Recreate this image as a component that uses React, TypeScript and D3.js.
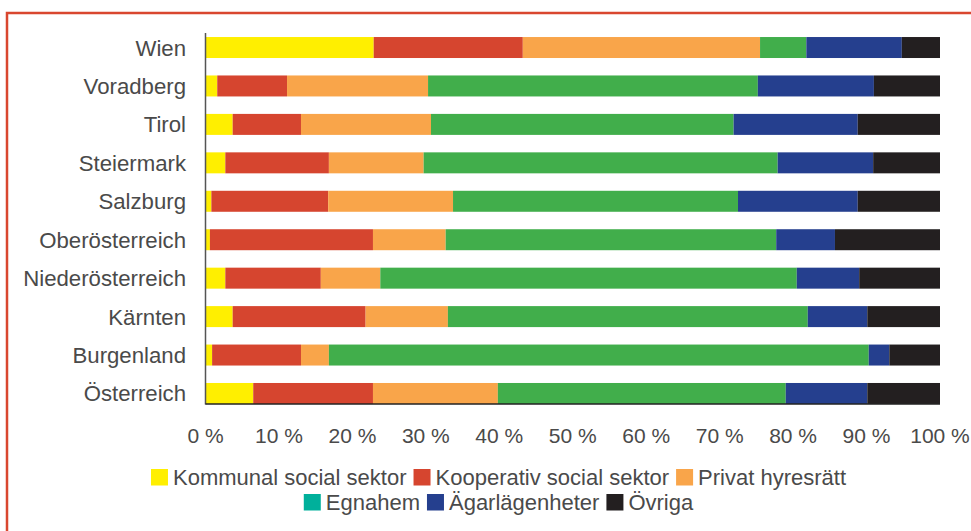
import React, { useEffect, useRef } from "react";
import * as d3 from "d3";

const categories = [
  "Wien",
  "Voradberg",
  "Tirol",
  "Steiermark",
  "Salzburg",
  "Oberösterreich",
  "Niederösterreich",
  "Kärnten",
  "Burgenland",
  "Österreich",
];

const seriesNames = [
  "Kommunal social sektor",
  "Kooperativ social sektor",
  "Privat hyresrätt",
  "Egnahem",
  "Ägarlägenheter",
  "Övriga",
];

const kommunal = [22.9, 1.6, 3.7, 2.7, 0.8, 0.6, 2.7, 3.7, 0.9, 6.5];
const kooperativ = [20.3, 9.5, 9.3, 14.1, 15.9, 22.2, 13.0, 18.1, 12.1, 16.3];
const privat = [32.3, 19.2, 17.7, 12.9, 17.0, 9.9, 8.1, 11.2, 3.8, 17.0];
const egnahem = [6.3, 44.9, 41.2, 48.2, 38.8, 45.0, 56.7, 49.0, 73.5, 39.2];
const agar = [13.0, 15.8, 16.9, 13.0, 16.3, 8.0, 8.5, 8.1, 2.8, 11.1];
const ovriga = [5.2, 9.0, 11.2, 9.1, 11.2, 14.3, 11.0, 9.9, 6.9, 9.9];

const tickValues = [0, 10, 20, 30, 40, 50, 60, 70, 80, 90, 100];

const barColors = ["#FFEF00", "#D6452F", "#F9A54A", "#41AE4B", "#253F8E", "#231F20"];
const legendColors = ["#FFEF00", "#D6452F", "#F9A54A", "#00B09B", "#253F8E", "#231F20"];

const W = 971;
const H = 531;
const FONT = "'Liberation Sans', Arial, sans-serif";
const TEXT = "#4a4a4a";

export default function App() {
  const ref = useRef<SVGSVGElement | null>(null);

  useEffect(() => {
    const svg = d3.select(ref.current);
    svg.selectAll("*").remove();

    const seriesValues = [kommunal, kooperativ, privat, egnahem, agar, ovriga];
    const rows = categories.map((c, i) => {
      const r: any = { cat: c };
      seriesNames.forEach((s, j) => (r[s] = seriesValues[j][i]));
      return r;
    });
    const stacked = d3.stack().keys(seriesNames)(rows);

    const x = d3.scaleLinear().domain([0, 100]).range([205.5, 940]);
    const y = d3
      .scaleBand()
      .domain(categories)
      .range([28.3, 412.7])
      .paddingInner(0.454)
      .paddingOuter(0.227);

    // frame
    svg
      .append("rect")
      .attr("x", 7)
      .attr("y", 13)
      .attr("width", 1000)
      .attr("height", 600)
      .attr("fill", "none")
      .attr("stroke", "#D9472F")
      .attr("stroke-width", 2.5);

    // bars
    stacked.forEach((layer, j) => {
      svg
        .append("g")
        .selectAll("rect")
        .data(layer)
        .join("rect")
        .attr("x", (d: any) => x(d[0]))
        .attr("width", (d: any) => x(d[1]) - x(d[0]))
        .attr("y", (d: any) => y(d.data.cat) as number)
        .attr("height", y.bandwidth())
        .attr("fill", barColors[j]);
    });

    // axes lines
    const yBottom = (y(categories[categories.length - 1]) as number) + y.bandwidth();
    svg
      .append("line")
      .attr("x1", x(0))
      .attr("x2", x(0))
      .attr("y1", 33)
      .attr("y2", yBottom + 0.5)
      .attr("stroke", "#555")
      .attr("stroke-width", 1.5);
    svg
      .append("line")
      .attr("x1", x(0))
      .attr("x2", x(100))
      .attr("y1", yBottom)
      .attr("y2", yBottom)
      .attr("stroke", "#222")
      .attr("stroke-width", 1.5);

    // category labels
    svg
      .append("g")
      .selectAll("text")
      .data(categories)
      .join("text")
      .attr("x", 186)
      .attr("y", (d) => (y(d) as number) + y.bandwidth() / 2)
      .attr("dy", "0.36em")
      .attr("text-anchor", "end")
      .attr("font-family", FONT)
      .attr("font-size", 22.2)
      .attr("fill", TEXT)
      .text((d) => d);

    // tick labels
    svg
      .append("g")
      .selectAll("text")
      .data(tickValues)
      .join("text")
      .attr("x", (d) => x(d))
      .attr("y", 443)
      .attr("text-anchor", "middle")
      .attr("font-family", FONT)
      .attr("font-size", 21)
      .attr("fill", TEXT)
      .text((d) => `${d} %`);

    // legend
    const rowsLegend = [
      { items: [0, 1, 2], baseline: 485 },
      { items: [3, 4, 5], baseline: 510 },
    ];
    const sw = 17;
    const gapText = 5;
    const gapItem = 7;
    const center = 498.5;
    rowsLegend.forEach((row) => {
      const g = svg.append("g");
      let cx = 0;
      row.items.forEach((idx, k) => {
        const item = g.append("g").attr("transform", `translate(${cx},0)`);
        item
          .append("rect")
          .attr("x", 0)
          .attr("y", row.baseline - 16)
          .attr("width", sw)
          .attr("height", 16.5)
          .attr("fill", legendColors[idx]);
        const t = item
          .append("text")
          .attr("x", sw + gapText)
          .attr("y", row.baseline)
          .attr("font-family", FONT)
          .attr("font-size", 22)
          .attr("fill", TEXT)
          .text(seriesNames[idx]);
        const tw = (t.node() as SVGTextElement).getComputedTextLength();
        cx += sw + gapText + tw + (k < row.items.length - 1 ? gapItem : 0);
      });
      g.attr("transform", `translate(${center - cx / 2},0)`);
    });
  }, []);

  return (
    <svg
      ref={ref}
      width={W}
      height={H}
      style={{ position: "absolute", left: 0, top: 0, background: "#fff" }}
    />
  );
}
